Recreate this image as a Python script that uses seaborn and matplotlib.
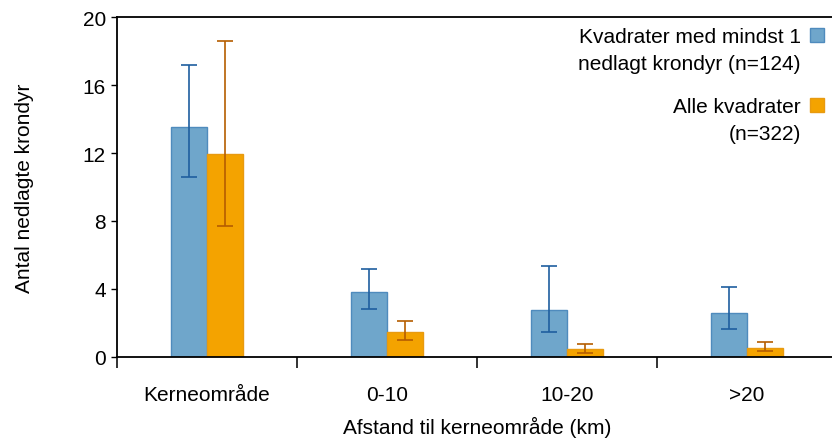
import numpy as np
import pandas as pd
import seaborn as sns
import matplotlib
matplotlib.use("Agg")
import matplotlib.pyplot as plt
from matplotlib.patches import Patch, Rectangle
from matplotlib.legend_handler import HandlerPatch

# ---- data ----
categories = ["Kerneområde", "0-10", "10-20", ">20"]
series_names = ["Kvadrater med mindst 1\nnedlagt krondyr (n=124)", "Alle kvadrater\n(n=322)"]
blue_vals = [13.55, 3.82, 2.76, 2.59]
blue_low = [10.6, 2.82, 1.47, 1.65]
blue_high = [17.2, 5.18, 5.35, 4.12]
orange_vals = [11.95, 1.47, 0.47, 0.53]
orange_low = [7.7, 1.0, 0.24, 0.35]
orange_high = [18.6, 2.12, 0.76, 0.88]
y_ticks = [0, 4, 8, 12, 16, 20]
x_label = "Afstand til kerneområde (km)"
y_label = "Antal nedlagte krondyr"

blue_fill, blue_edge, blue_err = "#6fa6cb", "#4f8bbd", "#1f5f9f"
orange_fill, orange_edge, orange_err = "#f4a300", "#e89a10", "#b55d00"

FS = 15

sns.set_theme(style="white")
plt.rcParams["font.family"] = ["Liberation Sans", "DejaVu Sans"]
plt.rcParams.update({"text.color": "black", "axes.labelcolor": "black",
                     "xtick.color": "black", "ytick.color": "black"})

df = pd.DataFrame({
    "cat": categories * 2,
    "series": [series_names[0]] * 4 + [series_names[1]] * 4,
    "val": blue_vals + orange_vals,
})

fig = plt.figure(figsize=(8.32, 4.39), dpi=100)
ax = fig.add_axes([117 / 832, 81 / 439, 720 / 832, 340 / 439])

sns.barplot(data=df, x="cat", y="val", hue="series", order=categories,
            hue_order=series_names, palette=[blue_fill, orange_fill], saturation=1,
            width=0.4, errorbar=None, legend=False, ax=ax, linewidth=1.0)

edges = [blue_edge, orange_edge]
errc = [blue_err, orange_err]
vals = [blue_vals, orange_vals]
lows = [blue_low, orange_low]
highs = [blue_high, orange_high]
bar_conts = list(ax.containers)
for i, cont in enumerate(bar_conts):
    xs = []
    for p in cont.patches:
        p.set_edgecolor(edges[i])
        xs.append(p.get_x() + p.get_width() / 2)
    v = np.array(vals[i]); lo = np.array(lows[i]); hi = np.array(highs[i])
    ax.errorbar(xs, v, yerr=[v - lo, hi - v], fmt="none", ecolor=errc[i],
                elinewidth=1.2, capsize=5.5, capthick=1.2, zorder=5)

ax.set_xlim(-0.5, 3.5)
ax.set_ylim(0, 20)
ax.set_yticks(y_ticks)
ax.set_xticks(range(len(categories)))
ax.set_xticklabels(categories)
ax.set_xticks([-0.5, 0.5, 1.5, 2.5], minor=True)
ax.tick_params(axis="x", which="major", length=0, pad=20, labelsize=FS, colors="black")
ax.tick_params(axis="x", which="minor", length=8, width=1.3, direction="out", bottom=True, color="#222222")
ax.tick_params(axis="y", which="major", length=4.5, width=1.0, direction="out", left=True,
               labelsize=FS, pad=3.5, colors="black")
for s in ["left", "top", "bottom"]:
    ax.spines[s].set_visible(True)
    ax.spines[s].set_color("black")
    ax.spines[s].set_linewidth(1.3)
ax.spines["right"].set_visible(False)

ax.set_xlabel(x_label, fontsize=FS, labelpad=9)
ax.set_ylabel(y_label, fontsize=FS, labelpad=35)


def top_square(legend, orig_handle, xdescent, ydescent, width, height, fontsize):
    s = width
    return Rectangle((-xdescent, -ydescent + height - s + 0.28 * fontsize), s, s)


handles = [Patch(facecolor=blue_fill, edgecolor=blue_edge),
           Patch(facecolor=orange_fill, edgecolor=orange_edge)]
leg = fig.legend(handles, series_names, loc="upper right",
                 bbox_to_anchor=(824 / 832, 1 - 28 / 439), bbox_transform=fig.transFigure,
                 frameon=False, markerfirst=False, fontsize=FS,
                 handlelength=0.68, handleheight=2.1, handletextpad=0.43,
                 labelspacing=1.15, borderpad=0, borderaxespad=0,
                 handler_map={Patch: HandlerPatch(patch_func=top_square)})
for t in leg.get_texts():
    t.set_multialignment("right")
    t.set_linespacing(1.53)

fig.savefig("out.png", dpi=100)
